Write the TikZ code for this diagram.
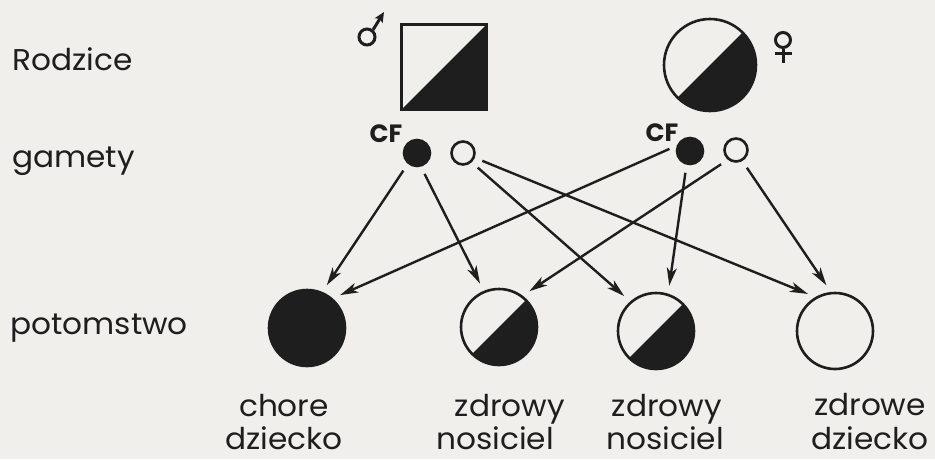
\documentclass[tikz,border=0pt]{standalone}
\usepackage{fontspec}
\setmainfont{Poppins}[FakeStretch=1.04]
\newfontfamily\cffont{Poppins}
\usetikzlibrary{arrows.meta}
\definecolor{paper}{RGB}{240,239,235}
\definecolor{ink}{RGB}{30,30,30}
\begin{document}
\begin{tikzpicture}[x=1pt,y=-1pt,
  lbl/.style={font=\fontsize{30}{30}\selectfont, text=ink, inner sep=0pt},
  cflbl/.style={font=\fontsize{25}{25}\selectfont\cffont\bfseries, text=ink, inner sep=0pt},
  halfdark/.style={path picture={\fill[ink] (path picture bounding box.north east)
      -- (path picture bounding box.south east) -- (path picture bounding box.south west) -- cycle;}},
  child/.style={circle, draw=ink, line width=2.6pt, minimum size=76pt, inner sep=0pt},
  gamete/.style={circle, draw=ink, line width=2.6pt, minimum size=23pt, inner sep=0pt},
  symring/.style={circle, draw=ink, line width=3pt, inner sep=0pt},
  symline/.style={draw=ink, line width=3pt},
  arr/.style={draw=ink, line width=2.4pt, -{Stealth[length=18pt,width=10pt,inset=5pt]},
      shorten <=8pt, shorten >=8pt}]
\fill[paper] (0,0) rectangle (935,459);
\useasboundingbox (0,0) rectangle (935,459);

% row labels
\node[lbl, anchor=base west] (tRodz) at (12,70) {Rodzice};
\node[lbl, anchor=base west] (tgam) at (12,167) {gamety};
\node[lbl, anchor=base west] (tpot) at (10,334) {potomstwo};

% parents
\node[draw=ink, line width=2.6pt, minimum size=85pt, inner sep=0pt, halfdark] (father) at (444,67) {};
\node[child, minimum size=92pt, halfdark] (mother) at (710,65) {};

% male sign
\node[symring, minimum size=16pt] (mring) at (367,37) {};
\coordinate (mtip) at (384,12);
\draw[symline, -{Stealth[length=10pt,width=9pt,inset=2pt]}] (mring.50) -- (mtip);
% female sign
\node[symring, minimum size=15pt] (fring) at (783,40) {};
\coordinate (fbot) at (783,63);
\coordinate (fbarL) at (775,53);
\coordinate (fbarR) at (792,53);
\draw[symline] (fring.south) -- (fbot);
\draw[symline] (fbarL) -- (fbarR);

% gametes
\node[cflbl] (cfL) at (386,134) {CF};
\node[gamete, fill=ink, minimum size=26pt] (L1) at (417,153) {};
\node[gamete, fill=paper] (L2) at (463,153) {};
\node[cflbl] (cfR) at (662,133) {CF};
\node[gamete, fill=ink, minimum size=26pt] (R1) at (690,151) {};
\node[gamete, fill=paper] (R2) at (736,150) {};

% offspring
\node[child, fill=ink] (O1) at (307,328) {};
\node[child, halfdark] (O2) at (499,327) {};
\node[child, halfdark] (O3) at (656,331) {};
\node[child] (O4) at (835,331) {};

% crosses
\draw[arr] (L1.230) -- (O1.67);
\draw[arr] (L1.286) -- (O2.113);
\draw[arr] (L2.313) -- (O3.131);
\draw[arr] (L2.338) -- (O4.120);
\draw[arr] (R1.158) -- (O1.49);
\draw[arr] (R1.256) -- (O3.72);
\draw[arr] (R2.230) -- (O2.53);
\draw[arr] (R2.300) -- (O4.96);

% offspring labels
\node[lbl, anchor=base] (c1a) at (284,416) {chore};
\node[lbl, anchor=base] (c1b) at (284,449) {dziecko};
\node[lbl, anchor=base] (c2a) at (510,416) {zdrowy};
\node[lbl, anchor=base] (c2b) at (495,449) {nosiciel};
\node[lbl, anchor=base] (c3a) at (667,416) {zdrowy};
\node[lbl, anchor=base] (c3b) at (665,449) {nosiciel};
\node[lbl, anchor=base] (c4a) at (870,415) {zdrowe};
\node[lbl, anchor=base] (c4b) at (870,449) {dziecko};
\end{tikzpicture}
\end{document}
